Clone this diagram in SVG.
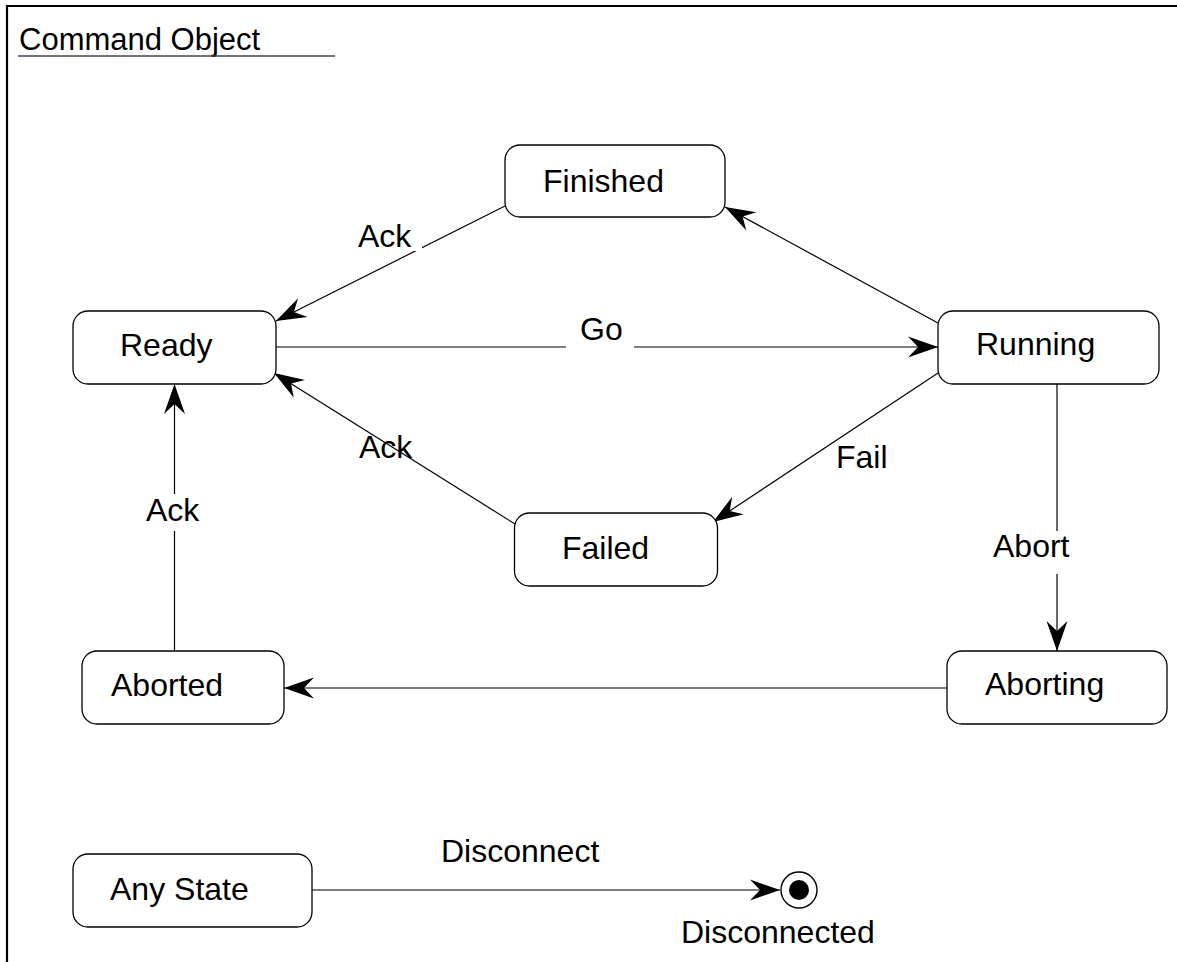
<svg xmlns="http://www.w3.org/2000/svg" width="1177" height="962" viewBox="0 0 1177 962">
<defs>
<marker id="arr" viewBox="-31 -12 32 24" refX="0" refY="0" markerWidth="32" markerHeight="24" markerUnits="userSpaceOnUse" orient="auto" overflow="visible">
<path d="M0,0 L-30,-10.5 L-20,0 L-30,10.5 Z" fill="#000"/>
</marker>
</defs>
<style>
text{font-family:"Liberation Sans",Arial,sans-serif;font-size:32px;fill:#000}
.st{fill:#fff;stroke:#000;stroke-width:1.3}
.cn{stroke:#000;stroke-width:1.2;fill:none}
.bg{fill:#fff;stroke:none}
</style>
<rect width="1177" height="962" fill="#fff"/>
<path d="M7,962 V6 H1177" fill="none" stroke="#000" stroke-width="2.2"/>
<g id="title">
<text x="19" y="50" style="font-size:31px">Command Object</text>
<line x1="18" y1="56" x2="335" y2="56" stroke="#444" stroke-width="1.5"/>
</g>
<g id="connectors">
<line class="cn" x1="505" y1="206" x2="276" y2="321" marker-end="url(#arr)"/>
<line class="cn" x1="276" y1="347" x2="938" y2="347" marker-end="url(#arr)"/>
<line class="cn" x1="938" y1="323" x2="725" y2="207" marker-end="url(#arr)"/>
<line class="cn" x1="938" y1="373" x2="713" y2="522" marker-end="url(#arr)"/>
<line class="cn" x1="515" y1="524" x2="274" y2="373" marker-end="url(#arr)"/>
<line class="cn" x1="1057" y1="384" x2="1057" y2="651" marker-end="url(#arr)"/>
<line class="cn" x1="947" y1="688" x2="284" y2="688" marker-end="url(#arr)"/>
<line class="cn" x1="174.5" y1="651" x2="174.5" y2="384" marker-end="url(#arr)"/>
<line class="cn" x1="312" y1="890" x2="780" y2="890" marker-end="url(#arr)"/>
<rect class="bg" x="346" y="222" width="76" height="29"/>
<text x="358" y="247">Ack</text>
<rect class="bg" x="566" y="318" width="68" height="34"/>
<text x="580" y="340">Go</text>
<text x="359" y="458">Ack</text>
<text x="836" y="468">Fail</text>
<rect class="bg" x="990" y="531" width="82" height="43"/>
<text x="993" y="557">Abort</text>
<rect class="bg" x="140" y="494" width="68" height="37"/>
<text x="146" y="521">Ack</text>
<text x="441" y="862">Disconnect</text>
</g>
<g id="finished"><rect class="st" x="505" y="145" width="220" height="72" rx="15"/><text x="543" y="192">Finished</text></g>
<g id="ready"><rect class="st" x="73" y="311" width="203" height="73" rx="15"/><text x="120" y="356">Ready</text></g>
<g id="running"><rect class="st" x="938" y="311" width="221" height="73" rx="15"/><text x="976" y="355">Running</text></g>
<g id="failed"><rect class="st" x="514.5" y="513" width="203" height="73" rx="15"/><text x="562" y="559">Failed</text></g>
<g id="aborted"><rect class="st" x="82" y="651" width="202" height="73" rx="15"/><text x="111" y="696">Aborted</text></g>
<g id="aborting"><rect class="st" x="947" y="651" width="220" height="73" rx="15"/><text x="985" y="695">Aborting</text></g>
<g id="anystate"><rect class="st" x="73" y="854" width="239" height="73" rx="15"/><text x="110" y="900">Any State</text></g>
<g id="disconnected"><circle cx="799" cy="890" r="18" fill="#fff" stroke="#000" stroke-width="1.4"/><circle cx="799" cy="890" r="10" fill="#000"/><text x="681" y="943">Disconnected</text></g>
</svg>
